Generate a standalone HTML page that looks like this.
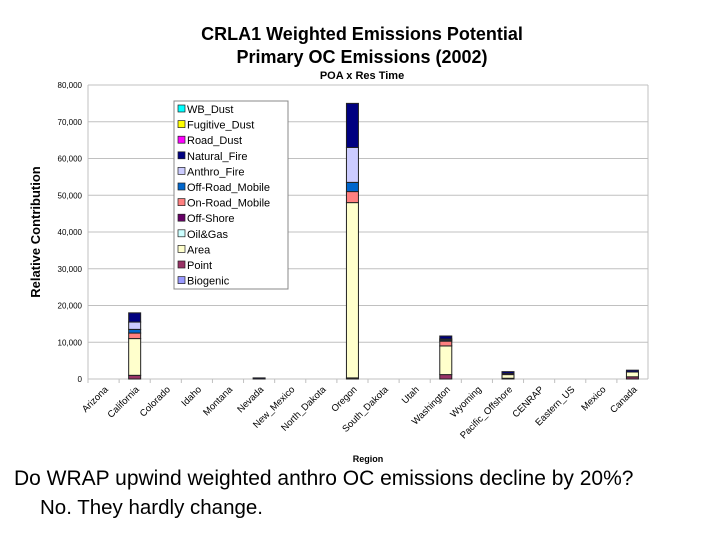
<!DOCTYPE html>
<html><head><meta charset="utf-8"><style>
body{margin:0;background:#fff;width:720px;height:540px;overflow:hidden;font-family:"Liberation Sans",sans-serif}
</style></head><body>
<svg id="chart" width="720" height="540" xmlns="http://www.w3.org/2000/svg">
<text x="362" y="40" text-anchor="middle" font-size="18" font-weight="bold">CRLA1 Weighted Emissions Potential</text>
<text x="362" y="63" text-anchor="middle" font-size="18" font-weight="bold">Primary OC Emissions (2002)</text>
<text x="362" y="79" text-anchor="middle" font-size="11" font-weight="bold">POA x Res Time</text>
<text transform="translate(40,232) rotate(-90)" text-anchor="middle" font-size="13" font-weight="bold">Relative Contribution</text>
<text x="368" y="462" text-anchor="middle" font-size="9" font-weight="bold">Region</text>
<g id="grid"></g><g id="bars"></g><g id="xlabels"></g>
<text x="14" y="485" font-size="21">Do WRAP upwind weighted anthro OC emissions decline by 20%?</text>
<text x="40" y="514" font-size="20.5">No.  They hardly change.</text>
<g id="legend"></g>
</svg>
<script>
const categories=["Arizona","California","Colorado","Idaho","Montana","Nevada","New_Mexico","North_Dakota","Oregon","South_Dakota","Utah","Washington","Wyoming","Pacific_Offshore","CENRAP","Eastern_US","Mexico","Canada"];
const seriesNames=["Biogenic","Point","Area","Oil&Gas","Off-Shore","On-Road_Mobile","Off-Road_Mobile","Anthro_Fire","Natural_Fire","Road_Dust","Fugitive_Dust","WB_Dust"];
const seriesColors=["#9999ff","#993366","#ffffcc","#ccffff","#660066","#ff8080","#0066cc","#ccccff","#000080","#ff00ff","#ffff00","#00ffff"];
const biogenic=[0,0,0,0,0,0,0,0,0,0,0,0,0,0,0,0,0,0];
const point=[0,1000,0,0,0,0,0,0,300,0,0,1200,0,200,0,0,0,600];
const area=[0,10000,0,0,0,0,0,0,47700,0,0,7800,0,1000,0,0,0,1300];
const oilGas=[0,0,0,0,0,0,0,0,0,0,0,0,0,0,0,0,0,0];
const offShore=[0,0,0,0,0,0,0,0,0,0,0,0,0,300,0,0,0,0];
const onRoad=[0,1500,0,0,0,0,0,0,3000,0,0,1300,0,0,0,0,0,0];
const offRoad=[0,1000,0,0,0,0,0,0,2500,0,0,300,0,0,0,0,0,0];
const anthroFire=[0,2000,0,0,0,0,0,0,9500,0,0,300,0,0,0,0,0,0];
const naturalFire=[0,2500,0,0,0,300,0,0,12000,0,0,800,0,500,0,0,0,500];
const roadDust=[0,0,0,0,0,0,0,0,0,0,0,0,0,0,0,0,0,0];
const fugitiveDust=[0,0,0,0,0,0,0,0,0,0,0,0,0,0,0,0,0,0];
const wbDust=[0,0,0,0,0,0,0,0,0,0,0,0,0,0,0,0,0,0];
const yTicks=[0,10000,20000,30000,40000,50000,60000,70000,80000];
const yTickLabels=["0","10,000","20,000","30,000","40,000","50,000","60,000","70,000","80,000"];
const series=[biogenic,point,area,oilGas,offShore,onRoad,offRoad,anthroFire,naturalFire,roadDust,fugitiveDust,wbDust];
const NS="http://www.w3.org/2000/svg";
const L=88,R=648,T=85,B=379,yMax=80000;
const cw=(R-L)/categories.length;
const y=v=>B-(v/yMax)*(B-T);
const x=i=>L+cw*(i+0.5);
function mk(tag,attrs,parent){const e=document.createElementNS(NS,tag);for(const k in attrs)e.setAttribute(k,attrs[k]);parent.appendChild(e);return e;}
const grid=document.getElementById('grid'),bars=document.getElementById('bars'),xl=document.getElementById('xlabels'),lg=document.getElementById('legend');
yTicks.forEach((t,i)=>{
 const ln=mk('line',{x1:L,x2:R,y1:y(t),y2:y(t),stroke:'#c0c0c0','stroke-width':1},grid);
 
 
 const tx=mk('text',{x:L-6,y:y(t)+3,'text-anchor':'end','font-size':8},grid);
 tx.textContent=yTickLabels[i];
 
 
});
const ax=mk('line',{x1:L,x2:L,y1:T,y2:B,stroke:'#c0c0c0'},grid);


const rx=mk('line',{x1:R,x2:R,y1:T,y2:B,stroke:'#c0c0c0'},grid);


categories.forEach((c,i)=>{
 const tk=mk('line',{x1:L+cw*i,x2:L+cw*i,y1:B,y2:B+4,stroke:'#c0c0c0'},grid);
 
 
 const tx=mk('text',{transform:`translate(${x(i)+5},${B+11}) rotate(-45)`,'text-anchor':'end','font-size':9.5},xl);
 tx.textContent=c;
 
 
 let acc=0;
 series.forEach((s,k)=>{
  const v=s[i]; if(!v) return;
  const r=mk('rect',{x:x(i)-6,y:y(acc+v),width:12,height:y(acc)-y(acc+v),fill:seriesColors[k],stroke:'#222','stroke-width':1},bars);
  
  
  acc+=v;
 });
});
const box=mk('rect',{x:174,y:101,width:114,height:188,fill:'#fff',stroke:'#888'},lg);


for(let j=0;j<seriesNames.length;j++){
 const k=seriesNames.length-1-j, yy=109+j*15.6;
 const sw=mk('rect',{x:178,y:yy-4,width:7,height:7,fill:seriesColors[k],stroke:'#222','stroke-width':0.7},lg);
 
 
 const t=mk('text',{x:187,y:yy+4,'font-size':11},lg);
 t.textContent=seriesNames[k];
 
 
}
</script>
</body></html>
